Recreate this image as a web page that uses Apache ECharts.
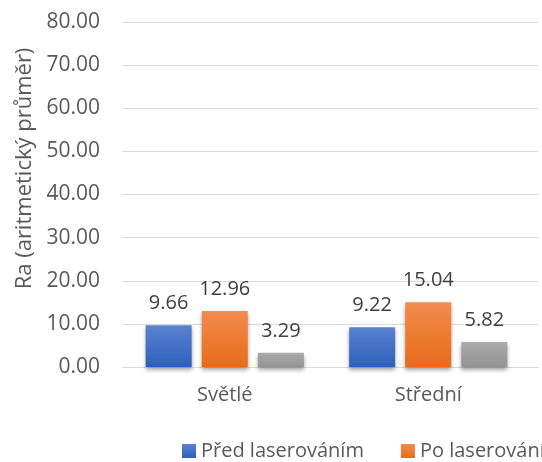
<!DOCTYPE html>
<html>
<head>
<meta charset="utf-8">
<script src="https://cdn.jsdelivr.net/npm/echarts@6/dist/echarts.min.js"></script>
<style>
  html, body { margin: 0; padding: 0; background: #ffffff; }
  #chart { width: 542px; height: 462px; }
</style>
</head>
<body>
<div id="chart"></div>
<script>
// Surface roughness Ra before and after laser treatment
const categories = ['Světlé', 'Střední'];
const seriesNames = ['Před laserováním', 'Po laserování', 'Rozdíl'];
const beforeValues = [9.66, 9.22];
const afterValues = [12.96, 15.04];
const diffValues = [3.29, 5.82];
const yTicks = { min: 0, max: 80, step: 10 };

const FONT = '"Open Sans", sans-serif';

function grad(top, bottom) {
  return new echarts.graphic.LinearGradient(0, 0, 0, 1, [
    { offset: 0, color: top },
    { offset: 1, color: bottom }
  ]);
}

function barSeries(name, values, top, bottom) {
  return {
    name: name,
    type: 'bar',
    xAxisIndex: 0,
    yAxisIndex: 0,
    data: values,
    barWidth: 46,
    barGap: '22%',
    itemStyle: {
      color: grad(top, bottom),
      shadowColor: 'rgba(0,0,0,0.35)',
      shadowBlur: 4,
      shadowOffsetY: 3
    },
    label: {
      show: true,
      position: 'top',
      distance: 12,
      formatter: p => p.value.toFixed(2),
      fontFamily: FONT,
      fontSize: 20,
      color: '#404040'
    }
  };
}

const chart = echarts.init(document.getElementById('chart'), null, { renderer: 'canvas' });
chart.setOption({
  animation: false,
  backgroundColor: '#ffffff',
  grid: [
    { left: 123, right: 12, top: 22, bottom: 95 },
    { left: 123, right: 4, top: 22, bottom: 95 }
  ],
  legend: {
    data: seriesNames,
    left: 177,
    top: 436,
    width: 2000,
    icon: 'rect',
    itemWidth: 14,
    itemHeight: 14,
    itemGap: 37,
    textStyle: { fontFamily: FONT, fontSize: 20, color: '#595959' }
  },
  xAxis: [
    {
      type: 'category',
      gridIndex: 0,
      data: categories,
      axisLine: { show: false },
      axisTick: { show: false },
      axisLabel: { margin: 18, fontFamily: FONT, fontSize: 20, color: '#595959' }
    },
    {
      type: 'value',
      gridIndex: 1,
      min: 0,
      max: 1,
      axisLine: { show: true, lineStyle: { color: '#d9d9d9', width: 1 } },
      axisTick: { show: false },
      axisLabel: { show: false },
      splitLine: { show: false }
    }
  ],
  yAxis: [
    {
      type: 'value',
      gridIndex: 0,
      min: yTicks.min,
      max: yTicks.max,
      interval: yTicks.step,
      show: false
    },
    {
      type: 'value',
      gridIndex: 1,
      min: yTicks.min,
      max: yTicks.max,
      interval: yTicks.step,
      axisLine: { show: false },
      axisTick: { show: false },
      splitLine: { show: true, lineStyle: { color: '#d9d9d9', width: 1 } },
      axisLabel: {
        margin: 23,
        formatter: v => v.toFixed(2),
        fontFamily: FONT,
        fontSize: 21,
        color: '#595959'
      },
      name: 'Ra (aritmetický průměr)',
      nameLocation: 'middle',
      nameGap: 82,
      nameTextStyle: {
        fontFamily: FONT,
        fontSize: 22,
        color: '#595959',
        padding: [0, 0, 0, 52]
      }
    }
  ],
  series: [
    barSeries(seriesNames[0], beforeValues, '#5a82d0', '#2e5fbd'),
    barSeries(seriesNames[1], afterValues, '#f28c4e', '#e86b1a'),
    barSeries(seriesNames[2], diffValues, '#ababab', '#939393')
  ]
});
</script>
</body>
</html>
